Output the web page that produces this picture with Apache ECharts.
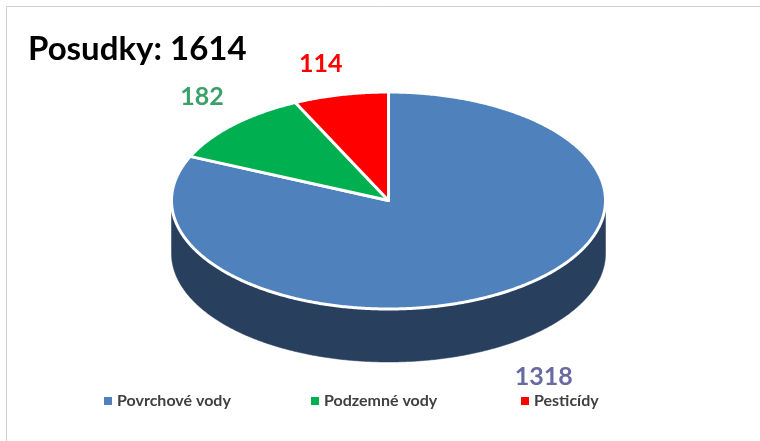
<!DOCTYPE html>
<html>
<head>
<meta charset="utf-8">
<script src="https://cdn.jsdelivr.net/npm/echarts@6/dist/echarts.min.js"></script>
<style>html,body{margin:0;padding:0;background:#fff}#c{width:760px;height:441px}</style>
</head>
<body>
<div id="c"></div>
<script>
const categories = ['Povrchové vody', 'Podzemné vody', 'Pesticídy'];
const values = [1318, 182, 114];
const titleLabel = 'Posudky';

// styles
const topColors = ['#4F81BD', '#00B050', '#FF0000'];
const sideColors = ['#283F5E', '#00703A', '#A00000'];
const labelColors = ['#6A6AA2', '#3BA06A', '#FF0000'];
const FONT = 'Lato';

// layout
const CX = 388.5, CY = 200.5, RX = 217, RY = 108.5, DEPTH = 53;
const labelLayout = [{k: 1.314, dy: 57}, {k: 1.2, dy: -12.5}, {k: 1.42, dy: 14}];
const legendLeft = [104, 311, 521];

const total = values.reduce((a, b) => a + b, 0);
const cum = [];
values.reduce((acc, v, i) => { cum[i] = acc; return acc + v; }, 0);

function pt(t, dz) {
  return [CX + RX * Math.sin(t), CY - RY * Math.cos(t) + (dz || 0)];
}
function arc(a, b, dz) {
  const n = Math.max(2, Math.ceil(Math.abs(b - a) / (Math.PI / 360)));
  const out = [];
  for (let j = 0; j <= n; j++) out.push(pt(a + (b - a) * j / n, dz));
  return out;
}

function makeRender(i) {
  return function (params, api) {
    const v = api.value(0);
    const a0 = cum[i] / total * Math.PI * 2;
    const a1 = (cum[i] + v) / total * Math.PI * 2;
    const children = [];
    // visible side (front half: PI/2 .. 3PI/2)
    const s0 = Math.max(a0, Math.PI / 2), s1 = Math.min(a1, Math.PI * 1.5);
    if (s1 > s0) {
      const pts = arc(s0, s1, 0).concat(arc(s1, s0, DEPTH));
      children.push({
        type: 'polygon', z2: 1,
        shape: {points: pts},
        style: {fill: sideColors[i], stroke: sideColors[i], lineWidth: 0.5}
      });
    }
    // top face
    children.push({
      type: 'polygon', z2: 10,
      shape: {points: [[CX, CY]].concat(arc(a0, a1, 0))},
      style: {fill: topColors[i], stroke: '#ffffff', lineWidth: 3, lineJoin: 'round'}
    });
    // label
    const am = (a0 + a1) / 2;
    const L = labelLayout[i];
    children.push({
      type: 'text', z2: 20,
      x: CX + L.k * RX * Math.sin(am),
      y: CY - L.k * RY * Math.cos(am) + L.dy,
      style: {
        text: String(v), fill: labelColors[i],
        font: 'bold 25px ' + FONT,
        align: 'center', verticalAlign: 'middle'
      }
    });
    return {type: 'group', children: children};
  };
}

const chart = echarts.init(document.getElementById('c'), null, {renderer: 'canvas'});
chart.setOption({
  animation: false,
  color: topColors,
  title: {
    text: titleLabel + ': ' + total,
    left: 28, top: 33, padding: 0,
    textStyle: {fontFamily: FONT, fontWeight: 'bold', fontSize: 33, color: '#000000'}
  },
  graphic: [{
    type: 'rect', silent: true, z: -10,
    shape: {x: 6.5, y: 6.5, width: 800, height: 500},
    style: {fill: 'none', stroke: '#D0D0D0', lineWidth: 1}
  }],
  legend: categories.map((c, i) => ({
    data: [c], left: legendLeft[i], top: 393, padding: 0,
    icon: 'rect', itemWidth: 8, itemHeight: 8, itemGap: 6,
    textStyle: {fontFamily: FONT, fontWeight: 'bold', fontSize: 16, color: '#404040'}
  })),
  series: categories.map((c, i) => ({
    type: 'custom', name: c, coordinateSystem: 'none',
    itemStyle: {color: topColors[i]},
    data: [[values[i]]],
    renderItem: makeRender(i)
  }))
});
</script>
</body>
</html>
